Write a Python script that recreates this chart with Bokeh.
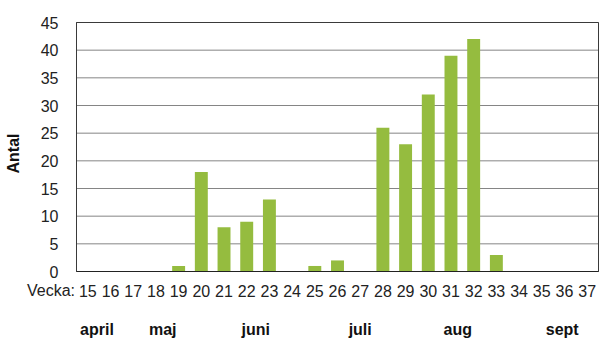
from bokeh.plotting import figure
from bokeh.models import ColumnDataSource, FixedTicker, Label, Range1d, LinearAxis
from bokeh.embed import file_html
from bokeh.resources import INLINE

weeks = list(range(15, 38))
counts = [0, 0, 0, 0, 1, 18, 8, 9, 13, 0, 1, 2, 0, 26, 23, 32, 39, 42, 3, 0, 0, 0, 0]
y_ticks = [0, 5, 10, 15, 20, 25, 30, 35, 40, 45]
months = ["april", "maj", "juni", "juli", "aug", "sept"]
month_weeks = [15.4, 18.3, 22.4, 27.0, 31.3, 35.9]

FONT = "Liberation Sans"
W, H = 607, 343
# plot area in pixels (left, top, right, bottom)
PL, PT, PR, PB = 76, 22, 598, 271

x_lo, x_hi = weeks[0] - 0.5, weeks[-1] + 0.5
y_lo, y_hi = y_ticks[0], y_ticks[-1]
ppx = (PR - PL) / (x_hi - x_lo)
ppy = (PB - PT) / (y_hi - y_lo)

# the frame covers the whole canvas so that every text lies inside it
x_range = Range1d(x_lo - PL / ppx, x_hi + (W - PR) / ppx)
y_range = Range1d(y_lo - (H - PB) / ppy, y_hi + PT / ppy)

p = figure(width=W, height=H, output_backend="svg", toolbar_location=None,
           x_range=x_range, y_range=y_range, x_axis_type=None, y_axis_type=None,
           min_border=0, min_border_left=0, min_border_right=0,
           min_border_top=0, min_border_bottom=0)
p.background_fill_color = "white"
p.border_fill_color = "white"
p.outline_line_color = None
p.grid.visible = False

# horizontal grid lines across the plot area only
p.segment(x0=[x_lo] * len(y_ticks), x1=[x_hi] * len(y_ticks), y0=y_ticks, y1=y_ticks,
          line_color="#858585", line_width=1)

src = ColumnDataSource(dict(week=weeks, count=counts))
p.vbar(x="week", top="count", width=0.57, source=src, fill_color="#95BC3F", line_color=None)

# plot-area border
p.quad(left=[x_lo], right=[x_hi], bottom=[y_lo], top=[y_hi], fill_color=None,
       line_color="#3a3a3a", line_width=1)

yaxis = LinearAxis(fixed_location=x_lo, bounds=(y_lo, y_hi), ticker=FixedTicker(ticks=y_ticks),
                   axis_line_color="#3a3a3a", major_tick_line_color=None, minor_tick_line_color=None,
                   major_label_text_font=FONT, major_label_text_font_size="16px",
                   major_label_text_color="#222222", major_label_standoff=12)
p.add_layout(yaxis, "left")

xaxis = LinearAxis(fixed_location=y_lo, bounds=(x_lo, x_hi), ticker=FixedTicker(ticks=weeks),
                   axis_line_color="#222222", major_tick_line_color=None, minor_tick_line_color=None,
                   major_label_text_font=FONT, major_label_text_font_size="16px",
                   major_label_text_color="#222222", major_label_standoff=7)
p.add_layout(xaxis, "below")

month_axis = LinearAxis(fixed_location=y_lo, ticker=FixedTicker(ticks=month_weeks),
                        major_label_overrides={w: m for w, m in zip(month_weeks, months)},
                        axis_line_color=None, major_tick_line_color=None,
                        minor_tick_line_color=None,
                        major_label_text_font=FONT, major_label_text_font_size="16px",
                        major_label_text_font_style="bold", major_label_text_color="#111111",
                        major_label_standoff=43)
p.add_layout(month_axis, "below")

p.add_layout(Label(x=x_lo - 1.5 / ppx, y=y_lo - (290 - PB) / ppy, text="Vecka:",
                   text_align="right", text_baseline="middle",
                   text_font=FONT, text_font_size="16px", text_color="#222222"))

p.add_layout(Label(x=x_lo - (PL - 13) / ppx, y=y_lo + (PB - 153) / ppy, text="Antal",
                   angle=1.5707963, text_align="center", text_baseline="middle",
                   text_font=FONT, text_font_size="16px", text_font_style="bold",
                   text_color="#111111"))

open("out.html", "w").write(file_html(p, INLINE))
